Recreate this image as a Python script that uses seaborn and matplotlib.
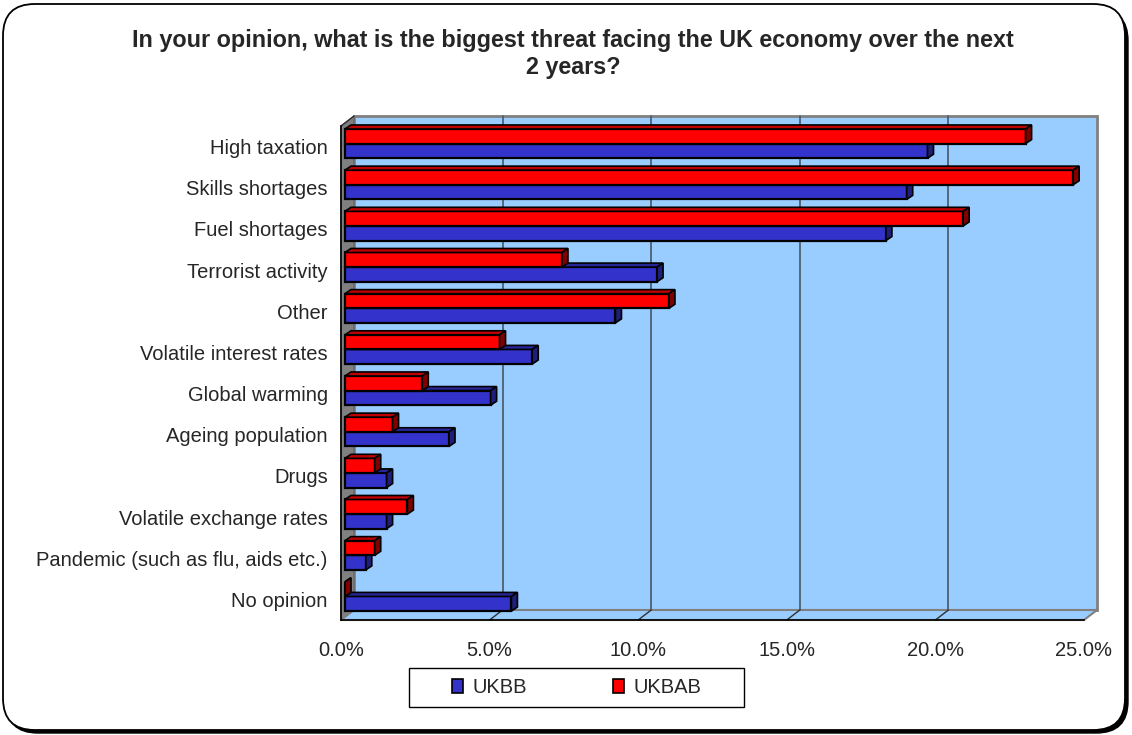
import matplotlib
matplotlib.use("Agg")
import matplotlib.pyplot as plt
import pandas as pd
import seaborn as sns
from matplotlib.patches import Polygon, Rectangle, FancyBboxPatch, Patch
from matplotlib.lines import Line2D

# ---- data -------------------------------------------------------------
categories = [
    "High taxation",
    "Skills shortages",
    "Fuel shortages",
    "Terrorist activity",
    "Other",
    "Volatile interest rates",
    "Global warming",
    "Ageing population",
    "Drugs",
    "Volatile exchange rates",
    "Pandemic (such as flu, aids etc.)",
    "No opinion",
]
ukbb = [19.6, 18.9, 18.2, 10.5, 9.1, 6.3, 4.9, 3.5, 1.4, 1.4, 0.7, 5.6]
ukbab = [22.9, 24.5, 20.8, 7.3, 10.9, 5.2, 2.6, 1.6, 1.0, 2.1, 1.0, 0.0]
series = ["UKBB", "UKBAB"]
x_ticks = [0, 5, 10, 15, 20, 25]
x_tick_labels = ["0.0%", "5.0%", "10.0%", "15.0%", "20.0%", "25.0%"]
title = ("In your opinion, what is the biggest threat facing the UK economy over the next\n"
         "2 years?")

# ---- styling ----------------------------------------------------------
face = {"UKBB": "#3333CC", "UKBAB": "#FF0000"}
top_shade = {"UKBB": "#262699", "UKBAB": "#C00000"}
side_shade = {"UKBB": "#1F1F7A", "UKBAB": "#800000"}
wall_color = "#99CCFF"

sns.set_style("white")
plt.rcParams["font.family"] = ["Liberation Sans", "DejaVu Sans"]
FS = 14.5

W, H = 1132, 735
fig = plt.figure(figsize=(W / 100, H / 100), dpi=100)

# rounded chart border with a drop shadow
shadow = FancyBboxPatch((6 / W, 2 / H), 1122 / W, 724 / H,
                        boxstyle="round,pad=0,rounding_size=0.028",
                        transform=fig.transFigure, facecolor="black",
                        edgecolor="black", lw=1, zorder=-2, mutation_aspect=W / H)
border = FancyBboxPatch((3 / W, 5 / H), 1122 / W, 726 / H,
                        boxstyle="round,pad=0,rounding_size=0.028",
                        transform=fig.transFigure, facecolor="white",
                        edgecolor="black", lw=1.3, zorder=-1, mutation_aspect=W / H)
fig.patches.extend([shadow, border])

# front plane of the plot area
x_left, x_right, y_top, y_bottom = 341, 1084, 126, 620
ax = fig.add_axes([x_left / W, 1 - y_bottom / H,
                   (x_right - x_left) / W, (y_bottom - y_top) / H])
ax.patch.set_visible(False)

df = pd.DataFrame({
    "category": categories * 2,
    "series": ["UKBB"] * len(categories) + ["UKBAB"] * len(categories),
    "value": ukbb + ukbab,
})

sns.barplot(data=df, y="category", x="value", hue="series",
            order=categories, hue_order=["UKBAB", "UKBB"],
            palette=face, saturation=1, width=0.71, orient="h",
            edgecolor="black", linewidth=1.6, legend=False, ax=ax)

xmax = 25
ax.set_xlim(0, xmax)
ax.set_ylim(len(categories) - 0.5, -0.5)

# pixel sizes in data units
px_x = xmax / (x_right - x_left)
px_y = len(categories) / (y_bottom - y_top)
wdx, wdy = 13 * px_x, 10 * px_y      # depth of the walls
bx, by = 4 * px_x, 3 * px_y          # where the bars sit in depth
sx, sy = 6 * px_x, 4 * px_y          # bar thickness in depth
y0, y1 = -0.5, len(categories) - 0.5

bars = list(ax.patches)

# back wall, left wall and floor
ax.add_patch(Rectangle((wdx, y0 - wdy), xmax, y1 - y0, facecolor=wall_color,
                       edgecolor="#808080", lw=2, zorder=0.5, clip_on=False))
ax.add_patch(Polygon([(0, y0), (wdx, y0 - wdy), (wdx, y1 - wdy), (0, y1)],
                     closed=True, facecolor="#808080", edgecolor="#606060",
                     lw=0.8, zorder=0.6, clip_on=False))
ax.add_patch(Polygon([(0, y1), (wdx, y1 - wdy), (xmax + wdx, y1 - wdy), (xmax, y1)],
                     closed=True, facecolor=wall_color, edgecolor="#808080",
                     lw=1.5, zorder=0.6, clip_on=False))
for v in x_ticks[1:-1]:
    ax.add_line(Line2D([v + wdx, v + wdx], [y0 - wdy, y1 - wdy], color="#4F6070",
                       lw=1.3, zorder=0.7, clip_on=False))
    ax.add_line(Line2D([v, v + wdx], [y1, y1 - wdy], color="#303030",
                       lw=1.0, zorder=0.7, clip_on=False))
ax.add_line(Line2D([0, wdx], [y0, y0 - wdy], color="#303030", lw=1.0,
                   zorder=0.7, clip_on=False))

# give each bar its 3-D top and end faces
for bar in bars:
    fc = bar.get_facecolor()
    name = "UKBAB" if fc[0] > 0.9 else "UKBB"
    z = 3 if name == "UKBB" else 4
    bx0, bw = bar.get_x(), bar.get_width()
    btop, bh = bar.get_y(), bar.get_height()
    bar.set_x(bx0 + bx)
    bar.set_y(btop - by)
    bar.set_zorder(z)
    bar.set_clip_on(False)
    xa, xb = bx0 + bx, bx0 + bx + bw
    ya, yb = btop - by, btop - by + bh
    ax.add_patch(Polygon([(xa, ya), (xa + sx, ya - sy), (xb + sx, ya - sy), (xb, ya)],
                         closed=True, facecolor=top_shade[name], edgecolor="black",
                         lw=1.2, zorder=z, clip_on=False))
    ax.add_patch(Polygon([(xb, ya), (xb + sx, ya - sy), (xb + sx, yb - sy), (xb, yb)],
                         closed=True, facecolor=side_shade[name], edgecolor="black",
                         lw=1.2, zorder=z, clip_on=False))

# axes, ticks and labels
sns.despine(ax=ax, top=True, right=True)
for s in ("left", "bottom"):
    ax.spines[s].set_color("black")
    ax.spines[s].set_linewidth(1.2)
    ax.spines[s].set_zorder(5)
ax.set_xticks(x_ticks)
ax.set_xticklabels(x_tick_labels, fontsize=FS)
ax.tick_params(axis="x", direction="out", length=6, width=1, color="black", pad=9)
ax.set_yticks(range(len(categories)))
ax.set_yticklabels(categories, fontsize=FS)
ax.set_yticks([i - 0.5 for i in range(len(categories) + 1)], minor=True)
ax.tick_params(axis="y", which="major", length=0, pad=9.5)
ax.tick_params(axis="y", which="minor", direction="out", length=6, width=1, color="black")
ax.set_xlabel("")
ax.set_ylabel("")

fig.text(573 / W, 1 - 54 / H, title, ha="center", va="center", fontsize=16.8,
         fontweight="bold", linespacing=1.2)

# legend in its own box
leg_box = (409, 668, 744, 707)
fig.patches.append(Rectangle((leg_box[0] / W, 1 - leg_box[3] / H),
                             (leg_box[2] - leg_box[0]) / W,
                             (leg_box[3] - leg_box[1]) / H,
                             transform=fig.transFigure, facecolor="white",
                             edgecolor="black", lw=1.0, zorder=1))
handles = [Patch(facecolor=face[s], edgecolor="black", lw=1.2, label=s) for s in series]
fig.legend(handles=handles, loc="center", ncol=2, frameon=False, fontsize=FS,
           bbox_to_anchor=((leg_box[0] + leg_box[2]) / 2 / W,
                           1 - (leg_box[1] + leg_box[3]) / 2 / H),
           handlelength=0.55, handleheight=0.65, handletextpad=0.45,
           columnspacing=4.3)

fig.savefig("out.png", dpi=100)
